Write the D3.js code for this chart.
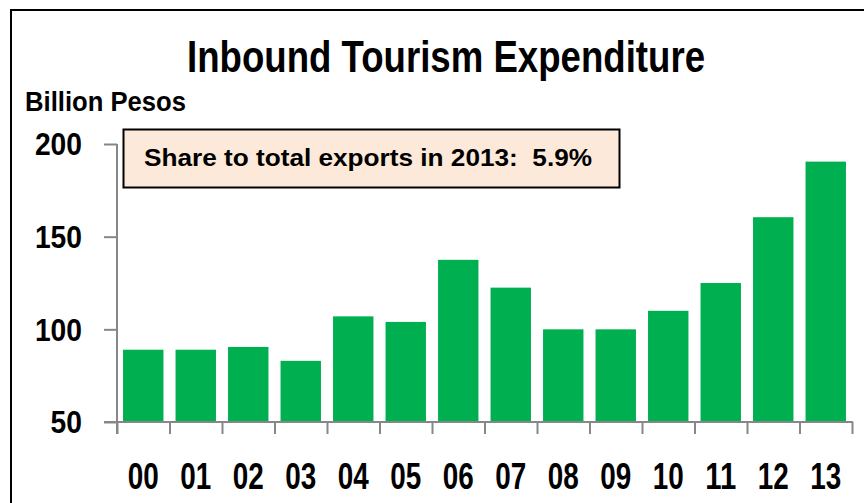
<!DOCTYPE html>
<html>
<head>
<meta charset="utf-8">
<script src="https://cdn.jsdelivr.net/npm/d3@7"></script>
<style>
  body { margin: 0; background: #fff; }
  svg { display: block; font-family: "Liberation Sans", Arial, sans-serif; font-weight: bold; }
</style>
</head>
<body>
<svg width="864" height="503"></svg>
<script>
// Chart data
const years = ["00", "01", "02", "03", "04", "05", "06", "07", "08", "09", "10", "11", "12", "13"];
const expenditure = [89, 89, 90.5, 83, 107, 104, 137.5, 122.5, 100, 100, 110, 125, 160.5, 190.5];
const yTicks = [50, 100, 150, 200];
const title = "Inbound Tourism Expenditure";
const unitLabel = "Billion Pesos";
const note = "Share to total exports in 2013:\u00A0\u00A05.9%";

const svg = d3.select("svg");
const axisGray = "#878787";
const barGreen = "#00B050";

// outer frame (only left and top edges visible)
svg.append("path")
    .attr("d", "M11,503V10H864")
    .attr("fill", "none")
    .attr("stroke", "#000")
    .attr("stroke-width", 2);

// Scales
const x = d3.scaleBand()
    .domain(years)
    .range([117, 852])
    .paddingInner(0.23)
    .paddingOuter(0.115);

const xEdge = d3.scaleLinear().domain([0, years.length]).range([117, 852]);

const y = d3.scaleLinear().domain([50, 200]).range([422, 144]);

// Bars
svg.append("g")
    .selectAll("rect")
    .data(expenditure)
    .join("rect")
    .attr("x", (d, i) => x(years[i]))
    .attr("y", d => y(d))
    .attr("width", x.bandwidth())
    .attr("height", d => y(50) - y(d))
    .attr("fill", barGreen);

// Y axis
const yAxis = svg.append("g")
    .attr("transform", "translate(117,0)")
    .call(d3.axisLeft(y).tickValues(yTicks).tickSize(13).tickPadding(22).tickSizeOuter(0));
yAxis.select(".domain").attr("stroke", axisGray).attr("stroke-width", 2)
    .attr("d", `M0,${y(200)}V434`);
yAxis.selectAll(".tick line").attr("stroke", axisGray).attr("stroke-width", 2);
yAxis.selectAll(".tick text")
    .attr("fill", "#000")
    .attr("font-size", 32)
    .attr("font-weight", "bold")
    .attr("font-family", "Liberation Sans, Arial, sans-serif")
    .attr("dy", "0.34em")
    .attr("textLength", d => String(d).length * 15.7)
    .attr("lengthAdjust", "spacingAndGlyphs");

// X axis: tick marks at category boundaries
const xAxis = svg.append("g")
    .attr("transform", `translate(0,${y(50)})`)
    .call(d3.axisBottom(xEdge).tickValues(d3.range(years.length + 1)).tickSize(12).tickFormat("").tickSizeOuter(0));
xAxis.select(".domain").attr("stroke", axisGray).attr("stroke-width", 2)
    .attr("d", "M104,0H853");
xAxis.selectAll(".tick line").attr("stroke", axisGray).attr("stroke-width", 2);

// X labels at band centers
const xLabels = svg.append("g")
    .attr("transform", `translate(0,${y(50)})`)
    .call(d3.axisBottom(x).tickSize(0).tickPadding(0));
xLabels.select(".domain").remove();
xLabels.selectAll(".tick text")
    .attr("fill", "#000")
    .attr("font-size", 37)
    .attr("font-weight", "bold")
    .attr("font-family", "Liberation Sans, Arial, sans-serif")
    .attr("dy", null)
    .attr("y", 67)
    .attr("textLength", 31)
    .attr("lengthAdjust", "spacingAndGlyphs");

// Title
svg.append("text")
    .attr("x", 446)
    .attr("y", 72)
    .attr("text-anchor", "middle")
    .attr("font-size", 45)
    .attr("textLength", 518)
    .attr("lengthAdjust", "spacingAndGlyphs")
    .text(title);

// Unit label
svg.append("text")
    .attr("x", 25)
    .attr("y", 111)
    .attr("font-size", 27)
    .attr("textLength", 161)
    .attr("lengthAdjust", "spacingAndGlyphs")
    .text(unitLabel);

// Annotation box
svg.append("rect")
    .attr("x", 123.5)
    .attr("y", 129.5)
    .attr("width", 496)
    .attr("height", 58)
    .attr("fill", "#FDE9D9")
    .attr("stroke", "#000")
    .attr("stroke-width", 2);

svg.append("text")
    .attr("x", 144)
    .attr("y", 166)
    .attr("font-size", 24.5)
    .attr("textLength", 448)
    .attr("lengthAdjust", "spacingAndGlyphs")
    .text(note);
</script>
</body>
</html>
